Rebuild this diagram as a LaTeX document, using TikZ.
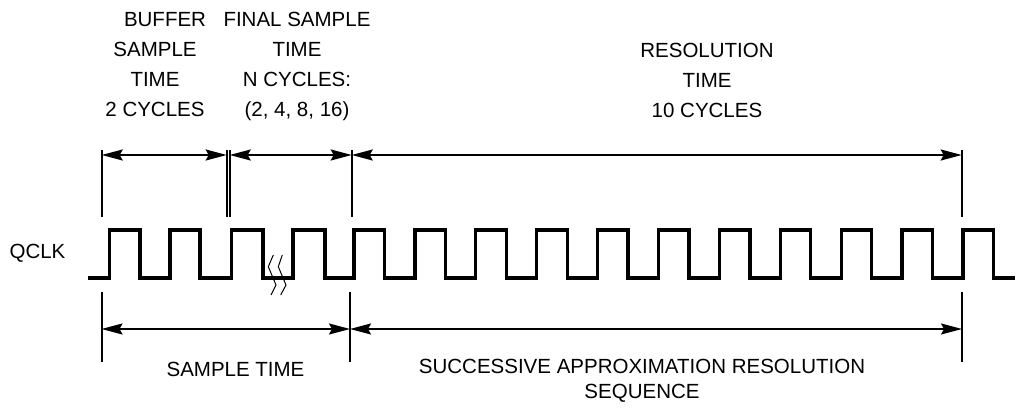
\documentclass[tikz,border=0pt]{standalone}
\usepackage{fontspec}
\setmainfont{Liberation Sans}
\usetikzlibrary{arrows.meta}
\begin{document}
\begin{tikzpicture}[x=1pt,y=-1pt,
  lbl/.style={font=\fontsize{20.5}{30}\selectfont, align=center, inner sep=0pt},
  lblb/.style={font=\fontsize{20.5}{25}\selectfont, align=center, inner sep=0pt},
  tick/.style={line width=2pt},
  dim/.style={line width=2pt, {Stealth[length=21pt,width=11pt,inset=3pt]}-{Stealth[length=21pt,width=11pt,inset=3pt]}},
  clk/.style={line width=3.3pt, line join=miter},
  brk/.style={line width=1pt}]
\useasboundingbox (0,0) rectangle (1016,411);

% top labels
\node[lbl] (buf) at (155,65) {\hspace*{20pt}BUFFER\\SAMPLE\\TIME\\2 CYCLES};
\node[lbl] (fin) at (297,66) {FINAL SAMPLE\\TIME\\N CYCLES:\\(2, 4, 8, 16)};
\node[lbl] (res) at (707,80) {RESOLUTION\\TIME\\10 CYCLES};
\node[lbl] (qclk) at (37.5,253) {QCLK};
\node[lbl] (smp) at (235.5,369) {SAMPLE TIME};
\node[lblb] (sar) at (642,381) {SUCCESSIVE APPROXIMATION RESOLUTION\\SEQUENCE};

% top ticks
\coordinate (t1a) at (101.7,150); \coordinate (t1b) at (101.7,217.5);
\coordinate (t2a) at (226.7,150); \coordinate (t2b) at (226.7,217.5);
\coordinate (t3a) at (229.7,150); \coordinate (t3b) at (229.7,217.5);
\coordinate (t4a) at (351.7,150); \coordinate (t4b) at (351.7,217.5);
\coordinate (t5a) at (961.7,150); \coordinate (t5b) at (961.7,217.5);
\foreach \i in {1,...,5} \draw[tick] (t\i a) -- (t\i b);

\coordinate (a1) at (101.7,155);
\coordinate (a2) at (226.7,155);
\coordinate (a3) at (229.7,155);
\coordinate (a4) at (351.7,155);
\coordinate (a5) at (961.7,155);
\draw[dim] (a1) -- (a2);
\draw[dim] (a3) -- (a4);
\draw[dim] (a4) -- (a5);

% bottom ticks
\coordinate (b1a) at (101.5,292); \coordinate (b1b) at (101.5,362);
\coordinate (b2a) at (350,292); \coordinate (b2b) at (350,362);
\coordinate (b3a) at (962,292); \coordinate (b3b) at (962,362);
\foreach \i in {1,2,3} \draw[tick] (b\i a) -- (b\i b);

\coordinate (c1) at (101.5,329);
\coordinate (c2) at (350,329);
\coordinate (c3) at (962,329);
\draw[dim] (c1) -- (c2);
\draw[dim] (c2) -- (c3);

% clock
\draw[clk] (88,278) -| (109.5,230) -| (140,278) -| (170,230) -| (200,278)
  -| (231.5,230) -| (263,278) -| (293,230) -| (325,278)
  -| (354,230) -| (384.5,278) -| (414.9,230) -| (445.4,278)
  -| (475.8,230) -| (506.3,278) -| (536.7,230) -| (567.2,278)
  -| (597.6,230) -| (628.1,278) -| (658.5,230) -| (689,278)
  -| (719.4,230) -| (749.9,278) -| (780.3,230) -| (810.8,278)
  -| (841.2,230) -| (871.7,278) -| (902.1,230) -| (932.6,278)
  -| (963,230) -| (993.5,278) -- (1015,278);

% break mark
\draw[brk] (273.3,255) -- (268.3,266.7) -- (276,285) -- (271,295);
\draw[brk] (282.3,255) -- (278.3,266.7) -- (286,285) -- (280.7,295);
\end{tikzpicture}
\end{document}
